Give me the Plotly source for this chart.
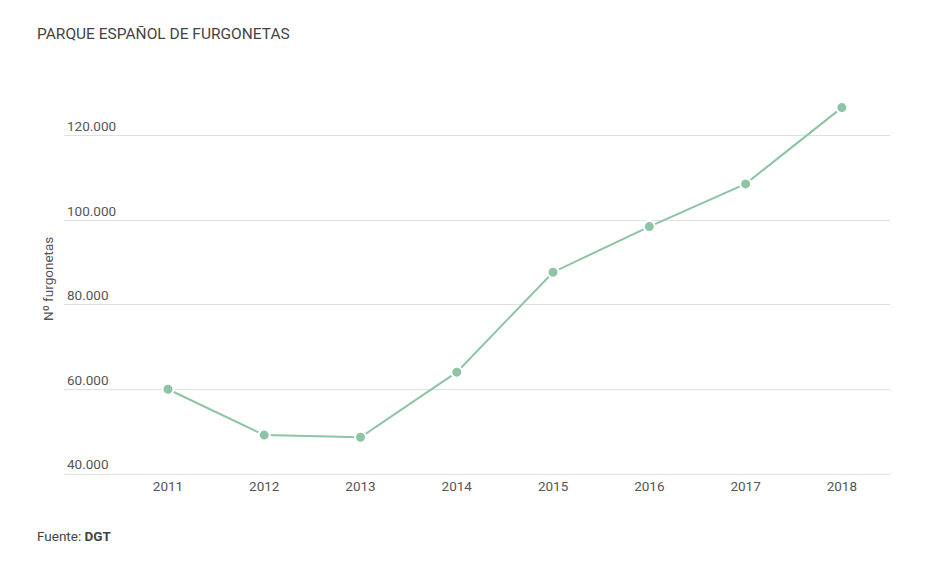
import plotly.graph_objects as go

years = [2011, 2012, 2013, 2014, 2015, 2016, 2017, 2018]
furgonetas = [60050, 49200, 48700, 64100, 87750, 98550, 108650, 126700]
y_ticks = [40000, 60000, 80000, 100000, 120000]
y_tick_labels = ["40.000", "60.000", "80.000", "100.000", "120.000"]

line_color = "#8cc4a4"
text_color = "#555555"
grid_color = "#e0e0e0"

fig = go.Figure()
fig.add_trace(go.Scatter(
    x=years, y=furgonetas, mode="lines+markers",
    line=dict(color=line_color, width=2),
    marker=dict(color=line_color, size=11, line=dict(color="white", width=2)),
    hoverinfo="x+y",
))

fig.update_layout(
    width=932, height=561,
    margin=dict(l=56, r=50, t=92, b=95),
    paper_bgcolor="white", plot_bgcolor="white",
    font=dict(family="Roboto", color=text_color, size=13.5),
    showlegend=False,
    xaxis=dict(
        range=[2009.92, 2018.5], tickmode="array", tickvals=years,
        ticktext=[str(y) for y in years],
        showgrid=False, zeroline=False, ticks="",
        showline=True, linecolor=grid_color, linewidth=1,
        tickfont=dict(size=13.5, color=text_color),
    ),
    yaxis=dict(
        range=[40000, 128500], tickmode="array", tickvals=y_ticks,
        ticktext=y_tick_labels, ticklabelposition="inside top",
        showgrid=True, gridcolor=grid_color, gridwidth=1,
        zeroline=False, showline=False, ticks="",
        tickfont=dict(size=13.5, color=text_color),
    ),
    annotations=[
        dict(text="PARQUE ESPAÑOL DE FURGONETAS", xref="paper", yref="paper",
             x=0, y=1.0, xanchor="left", yanchor="middle",
             xshift=-29, yshift=66, showarrow=False,
             font=dict(size=15.5, color="#444444", family="Roboto")),
        dict(text="Nº furgonetas", xref="paper", yref="paper",
             x=0, y=0.5, xanchor="center", yanchor="middle",
             xshift=-16, yshift=8, textangle=-90, showarrow=False,
             font=dict(size=13.5, color=text_color)),
        dict(text="Fuente: <b>DGT</b>", xref="paper", yref="paper",
             x=0, y=0, xanchor="left", yanchor="middle",
             xshift=-29, yshift=-62, showarrow=False,
             font=dict(size=13.5, color="#444444")),
    ],
)

fig.write_html("out.html")
